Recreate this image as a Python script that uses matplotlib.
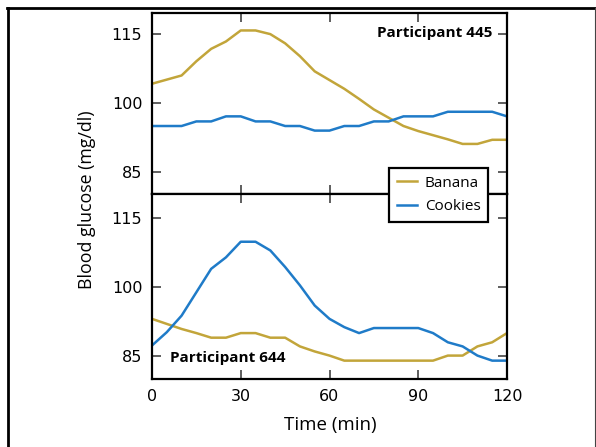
import matplotlib
matplotlib.use("Agg")
import matplotlib.pyplot as plt
from matplotlib.lines import Line2D

time_min = list(range(0, 121, 5))

banana_445 = [104.2, 105.1, 106.0, 109.1, 111.8, 113.4, 115.8, 115.8, 115.0, 113.0,
              110.2, 106.9, 105.0, 103.1, 100.9, 98.6, 96.8, 95.0, 93.9, 93.0,
              92.1, 91.1, 91.1, 92.0, 92.0]
cookies_445 = [95.0, 95.0, 95.0, 96.0, 96.0, 97.1, 97.1, 96.0, 96.0, 95.0,
               95.0, 94.0, 94.0, 95.0, 95.0, 96.0, 96.0, 97.1, 97.1, 97.1,
               98.1, 98.1, 98.1, 98.1, 97.1]

banana_644 = [93.0, 91.9, 90.8, 89.9, 88.9, 88.9, 89.9, 89.9, 88.9, 88.9,
              87.0, 85.9, 85.0, 83.9, 83.9, 83.9, 83.9, 83.9, 83.9, 83.9,
              85.0, 85.0, 87.0, 87.9, 89.9]
cookies_644 = [87.2, 90.1, 93.7, 98.8, 103.9, 106.4, 109.8, 109.8, 107.9, 104.3,
               100.3, 95.9, 93.0, 91.2, 89.9, 91.0, 91.0, 91.0, 91.0, 89.9,
               87.9, 87.0, 85.0, 83.9, 83.9]

x_ticks = [0, 30, 60, 90, 120]
y_ticks = [85, 100, 115]

BANANA = "#C2A53A"
COOKIES = "#1F7BC8"
LABEL_FONT = ["Open Sans", "DejaVu Sans"]

## Figure and axes ##
W, H = 596, 447
fig = plt.figure(figsize=(W / 100, H / 100), dpi=100)

left = 152 / W
width = (507 - 152) / W
ax1 = fig.add_axes([left, 1 - 194 / H, width, (194 - 13) / H])
ax2 = fig.add_axes([left, 1 - 379 / H, width, (379 - 194) / H])

ax1.plot(time_min, banana_445, color=BANANA, lw=1.8, label="Banana")
ax1.plot(time_min, cookies_445, color=COOKIES, lw=1.8, label="Cookies")
ax2.plot(time_min, banana_644, color=BANANA, lw=1.8)
ax2.plot(time_min, cookies_644, color=COOKIES, lw=1.8)

ax1.set_ylim(80.2, 119.6)
ax2.set_ylim(79.9, 120.2)

for ax in (ax1, ax2):
    ax.set_xlim(0, 120)
    ax.set_xticks(x_ticks)
    ax.set_yticks(y_ticks)
    ax.tick_params(direction="in", length=6.5, width=1.1, top=True, right=True,
                   labelsize=11.5, pad=7, color="#333333")
    for s in ax.spines.values():
        s.set_linewidth(1.6)
ax1.tick_params(labelbottom=False)

## Participant labels ##
ax1.text(0.958, 0.89, "Participant 445", transform=ax1.transAxes, ha="right",
         va="center", fontsize=11, fontweight="bold", family=LABEL_FONT)
ax2.text(0.05, 0.114, "Participant 644", transform=ax2.transAxes, ha="left",
         va="center", fontsize=11, fontweight="bold", family=LABEL_FONT)

## Axis labels ##
fig.text(87 / W, 1 - 200 / H, "Blood glucose (mg/dl)", rotation=90, ha="center",
         va="center", fontsize=12.8, family=LABEL_FONT)
fig.text(330 / W, 1 - 425 / H, "Time (min)", ha="center", va="center",
         fontsize=13.5, family=LABEL_FONT)

## Legend over both panels ##
leg = fig.legend(loc="upper left", bbox_to_anchor=(389 / W, 1 - 168 / H),
                 borderaxespad=0, fancybox=False, framealpha=1, edgecolor="black",
                 handlelength=1.35, handletextpad=0.5, borderpad=0.5,
                 labelspacing=0.55, prop={"family": LABEL_FONT, "size": 11})
leg.get_frame().set_linewidth(1.6)

## Outer frame of the picture ##
fig.add_artist(Line2D([8 / W, 8 / W], [0, 1 - 8 / H], color="black", lw=2))
fig.add_artist(Line2D([7 / W, 1], [1 - 8 / H, 1 - 8 / H], color="black", lw=2))
fig.add_artist(Line2D([595 / W, 595 / W], [0, 1 - 8 / H], color="#444444", lw=0.8))

plt.savefig("out.png", dpi=100)
